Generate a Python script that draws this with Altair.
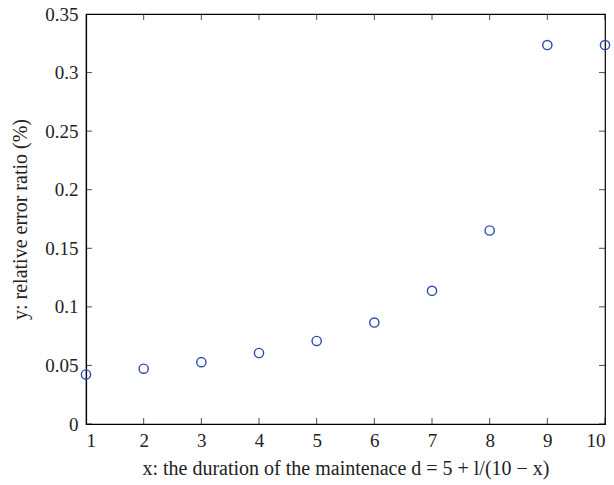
import altair as alt
import pandas as pd

x_vals = [1, 2, 3, 4, 5, 6, 7, 8, 9, 10]
y_vals = [0.0423, 0.0472, 0.0528, 0.0606, 0.0709, 0.0866, 0.1137, 0.1652, 0.3235, 0.3235]
x_ticks = [1, 2, 3, 4, 5, 6, 7, 8, 9, 10]
y_ticks = [0, 0.05, 0.1, 0.15, 0.2, 0.25, 0.3, 0.35]

FONT = "Liberation Serif"
BLUE = "#2a48b0"

df = pd.DataFrame({"x": x_vals, "y": y_vals})
dfx = pd.DataFrame({"xt": x_ticks})
dfy = pd.DataFrame({"yt": y_ticks})

xscale = alt.Scale(domain=[1, 10], nice=False, zero=False)
yscale = alt.Scale(domain=[0, 0.35], nice=False)

xaxis = alt.Axis(values=x_ticks, format="d", ticks=False, grid=False,
                 title="x: the duration of the maintenace d = 5 + l/(10 − x)",
                 labelPadding=7, titlePadding=8)
yaxis = alt.Axis(values=y_ticks, format=".2~f", ticks=False, grid=False,
                 title="y: relative error ratio (%)", labelPadding=8, titlePadding=14)

points = alt.Chart(df).mark_point(shape="circle", size=85, filled=False,
                                  color=BLUE, strokeWidth=1.4, opacity=1).encode(
    x=alt.X("x:Q", scale=xscale, axis=xaxis),
    y=alt.Y("y:Q", scale=yscale, axis=yaxis),
)

tick_l = alt.Chart(dfy).mark_tick(orient="horizontal", size=12, thickness=1,
                                  color="black", clip=True).encode(
    x=alt.datum(1), y=alt.Y("yt:Q"))
tick_r = alt.Chart(dfy).mark_tick(orient="horizontal", size=12, thickness=1,
                                  color="black", clip=True).encode(
    x=alt.datum(10), y=alt.Y("yt:Q"))
tick_b = alt.Chart(dfx).mark_tick(orient="vertical", size=12, thickness=1,
                                  color="black", clip=True).encode(
    x=alt.X("xt:Q"), y=alt.datum(0))
tick_t = alt.Chart(dfx).mark_tick(orient="vertical", size=12, thickness=1,
                                  color="black", clip=True).encode(
    x=alt.X("xt:Q"), y=alt.datum(0.35))

chart = alt.layer(tick_l, tick_r, tick_b, tick_t, points).properties(
    width=519, height=410,
    background="white",
    autosize=alt.AutoSizeParams(type="none"),
    padding={"left": 86, "top": 14, "right": 9, "bottom": 61},
).configure_view(stroke="black", strokeWidth=1.2).configure_axis(
    labelFont=FONT, titleFont=FONT, labelFontSize=19, titleFontSize=20,
    labelColor="#222222", titleColor="#222222", titleFontWeight="normal",
    domainColor="black", domainWidth=1.2,
)

chart.save("out.html", embed_options={"renderer": "svg", "actions": False})
